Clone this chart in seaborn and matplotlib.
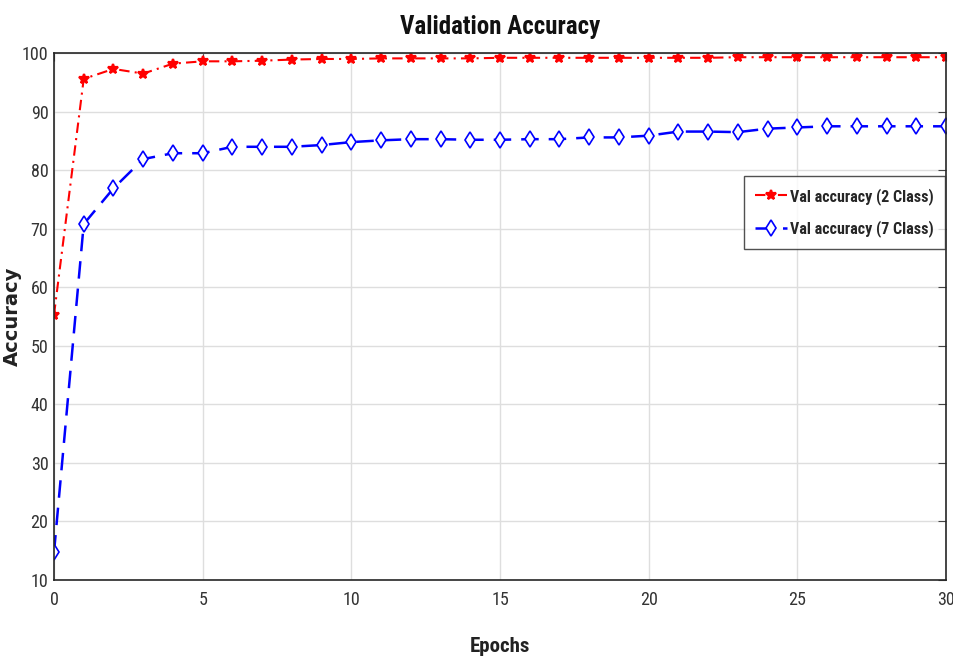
import numpy as np
import pandas as pd
import matplotlib
matplotlib.use("Agg")
import matplotlib.pyplot as plt
import seaborn as sns
from matplotlib import font_manager

epochs = list(range(31))
acc_2class = [55.3, 95.6, 97.3, 96.5, 98.2, 98.6, 98.6, 98.7, 98.9, 99.0, 99.0,
              99.1, 99.1, 99.1, 99.1, 99.2, 99.2, 99.2, 99.2, 99.2, 99.2,
              99.2, 99.2, 99.3, 99.3, 99.3, 99.3, 99.3, 99.3, 99.3, 99.3]
acc_7class = [14.7, 70.8, 76.9, 81.9, 82.9, 82.9, 84.0, 84.0, 84.0, 84.3, 84.8,
              85.1, 85.3, 85.3, 85.2, 85.2, 85.3, 85.3, 85.6, 85.6, 85.9,
              86.6, 86.6, 86.5, 87.1, 87.3, 87.5, 87.5, 87.5, 87.5, 87.5]
labels = ["Val accuracy (2 Class)", "Val accuracy (7 Class)"]
x_ticks = [0, 5, 10, 15, 20, 25, 30]
y_ticks = [10, 20, 30, 40, 50, 60, 70, 80, 90, 100]

sns.set_theme(style="white")
names = {f.name for f in font_manager.fontManager.ttflist}
narrow = "Liberation Sans Narrow" if "Liberation Sans Narrow" in names else "Roboto Condensed" if "Roboto Condensed" in names else "Liberation Sans"
plt.rcParams['font.family'] = [narrow, 'DejaVu Sans']

df = pd.DataFrame({
    "Epoch": epochs * 2,
    "Accuracy": acc_2class + acc_7class,
    "Series": [labels[0]] * len(epochs) + [labels[1]] * len(epochs),
})

fig = plt.figure(figsize=(9.54, 6.64), dpi=100)
ax = fig.add_axes([0.0566, 0.1265, 0.935, 0.7935])

sns.lineplot(data=df[df.Series == labels[0]], x="Epoch", y="Accuracy", ax=ax,
             color="#ff0000", linestyle=(0, (5, 2.5, 1, 2.5)), linewidth=1.5, marker="*",
             markersize=7, markeredgewidth=1.6, markeredgecolor="#ff0000",
             label=labels[0])
sns.lineplot(data=df[df.Series == labels[1]], x="Epoch", y="Accuracy", ax=ax,
             color="#0000ff", linestyle=(0, (7, 4)), linewidth=1.8, marker="d",
             markersize=8, markeredgewidth=1.2, markerfacecolor="white",
             markeredgecolor="#0000ff", label=labels[1])

ax.set_xlim(0, 30)
ax.set_ylim(10, 100)
ax.set_xticks(x_ticks)
ax.set_yticks(y_ticks)
ax.grid(True, color="#dedede", linewidth=1.0)
ax.set_axisbelow(True)
for side in ["left", "bottom", "top", "right"]:
    ax.spines[side].set_visible(True)
    ax.spines[side].set_color("#262626")
    ax.spines[side].set_linewidth(1.2)
ax.tick_params(axis="both", direction="in", length=6, width=0.8, color="#444444",
               top=True, right=True, labelsize=13, labelcolor="#333333")
ax.tick_params(axis="y", pad=4)
ax.tick_params(axis="x", pad=8)

ax.set_title("Validation Accuracy", fontsize=18, fontweight="bold", pad=14, color="#111111")
ax.set_xlabel("Epochs", fontsize=15, fontweight="bold", labelpad=20, color="#222222")
ax.set_ylabel("Accuracy", fontsize=14, fontweight="bold",
              family=["DejaVu Sans"], color="#222222")
ax.yaxis.set_label_coords(-0.036, 0.5)

leg = ax.legend(loc="upper left", bbox_to_anchor=(0.773, 0.766),
                prop={"size": 11.5, "weight": "bold"},
                frameon=True, fancybox=False, edgecolor="#262626",
                handlelength=2.0, handletextpad=0.2, borderpad=0.7, labelspacing=1.0,
                borderaxespad=0.0)
leg.get_frame().set_linewidth(1.0)

fig.savefig("out.png", dpi=100)
